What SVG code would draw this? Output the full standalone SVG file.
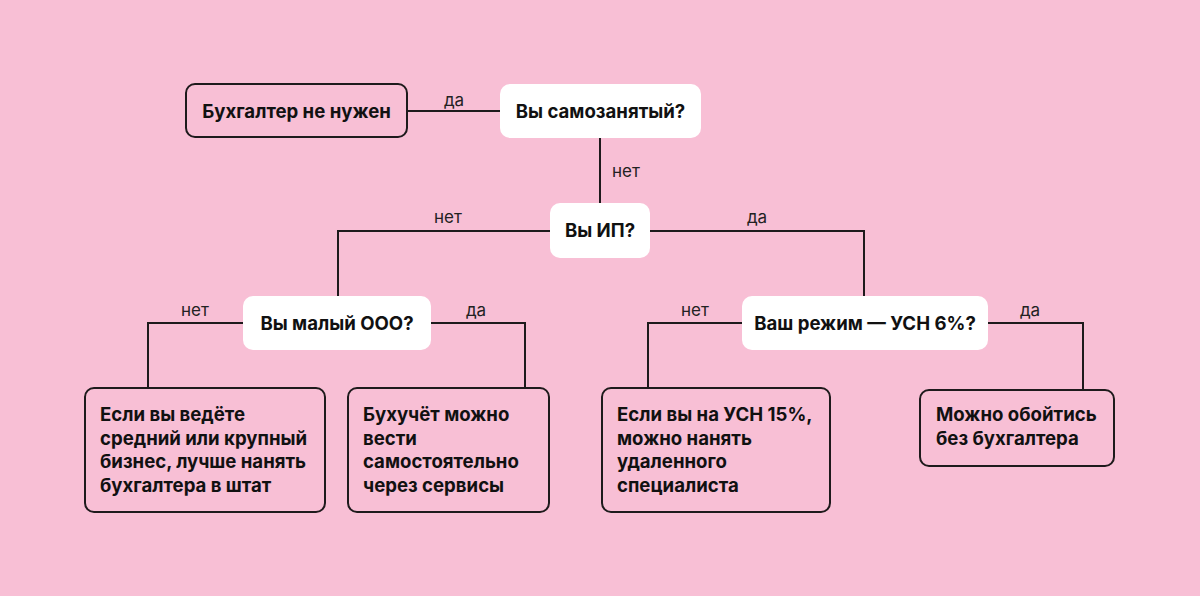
<svg xmlns="http://www.w3.org/2000/svg" width="1200" height="596" viewBox="0 0 1200 596">
<style>
.bg{fill:#F8BFD5}
.q{fill:#FFFFFF}
.a{fill:#F8BFD5;stroke:#1E1A1C;stroke-width:2}
.t{font-family:Inter,"Noto Sans",sans-serif;font-weight:700;font-size:18.6px;fill:#111}
.l{font-family:Inter,"Noto Sans",sans-serif;font-weight:400;font-size:17px;fill:#222}
.c{fill:none;stroke:#1E1A1C;stroke-width:2}
</style>
<rect class="bg" x="0" y="0" width="1200" height="596"/>
<g id="connectors">
<path class="c" d="M407 111H500"/>
<path class="c" d="M600 138V204"/>
<path class="c" d="M550 231H338V296"/>
<path class="c" d="M650 231H864V296"/>
<path class="c" d="M243 323H148V388"/>
<path class="c" d="M431 323H525V388"/>
<path class="c" d="M742 323H648V388"/>
<path class="c" d="M988 323H1083V390"/>
<text class="l" x="454" y="106" text-anchor="middle">да</text>
<text class="l" x="626" y="177" text-anchor="middle">нет</text>
<text class="l" x="448" y="223" text-anchor="middle">нет</text>
<text class="l" x="757" y="223" text-anchor="middle">да</text>
<text class="l" x="195" y="316" text-anchor="middle">нет</text>
<text class="l" x="476" y="316" text-anchor="middle">да</text>
<text class="l" x="695" y="316" text-anchor="middle">нет</text>
<text class="l" x="1030" y="316" text-anchor="middle">да</text>
</g>
<g id="n-not-needed">
<rect class="a" x="186" y="84" width="221" height="53" rx="9"/>
<text class="t" x="296.5" y="117.5" text-anchor="middle">Бухгалтер не нужен</text>
</g>
<g id="q-selfemployed">
<rect class="q" x="500" y="84" width="201" height="54" rx="10"/>
<text class="t" x="600.5" y="117.5" text-anchor="middle">Вы самозанятый?</text>
</g>
<g id="q-ip">
<rect class="q" x="550" y="203" width="100" height="55" rx="10"/>
<text class="t" x="600" y="237" text-anchor="middle">Вы ИП?</text>
</g>
<g id="q-ooo">
<rect class="q" x="243" y="296" width="188" height="54" rx="10"/>
<text class="t" x="337" y="329.5" text-anchor="middle">Вы малый ООО?</text>
</g>
<g id="q-usn">
<rect class="q" x="742" y="296" width="246" height="54" rx="10"/>
<text class="t" x="865" y="329.5" text-anchor="middle">Ваш режим — УСН 6%?</text>
</g>
<g id="a-staff">
<rect class="a" x="85" y="388" width="240" height="124" rx="9"/>
<text class="t" x="100" y="421">Если вы ведёте</text>
<text class="t" x="100" y="445">средний или крупный</text>
<text class="t" x="100" y="468">бизнес, лучше нанять</text>
<text class="t" x="100" y="492">бухгалтера в штат</text>
</g>
<g id="a-self">
<rect class="a" x="348" y="388" width="201" height="124" rx="9"/>
<text class="t" x="363" y="421">Бухучёт можно</text>
<text class="t" x="363" y="445">вести</text>
<text class="t" x="363" y="468">самостоятельно</text>
<text class="t" x="363" y="492">через сервисы</text>
</g>
<g id="a-remote">
<rect class="a" x="602" y="388" width="228" height="124" rx="9"/>
<text class="t" x="617" y="421">Если вы на УСН 15%,</text>
<text class="t" x="617" y="445">можно нанять</text>
<text class="t" x="617" y="468">удаленного</text>
<text class="t" x="617" y="492">специалиста</text>
</g>
<g id="a-none">
<rect class="a" x="920" y="390" width="194" height="76" rx="9"/>
<text class="t" x="936" y="421">Можно обойтись</text>
<text class="t" x="936" y="445">без бухгалтера</text>
</g>
</svg>
